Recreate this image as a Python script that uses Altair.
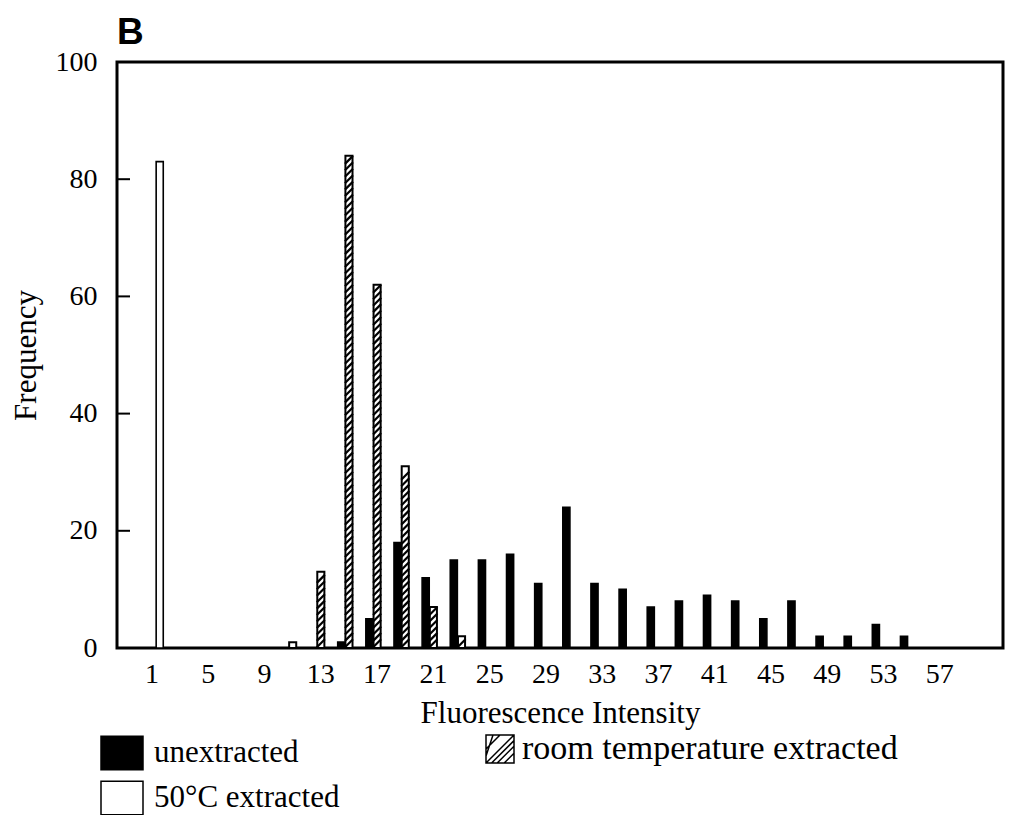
import altair as alt
import pandas as pd
import numpy as np

# ---- data ----
intensity_bins = list(range(1, 60, 2))
unextracted = [0, 0, 0, 0, 0, 0, 0, 1, 5, 18, 12, 15, 15, 16, 11, 24, 11, 10, 7, 8,
               9, 8, 5, 8, 2, 2, 4, 2, 0, 0]
room_temp = [0, 0, 0, 0, 0, 1, 13, 84, 62, 31, 7, 2, 0, 0, 0, 0, 0, 0, 0, 0,
             0, 0, 0, 0, 0, 0, 0, 0, 0, 0]
extracted_50 = [83, 0, 0, 0, 0, 0, 0, 0, 0, 0, 0, 0, 0, 0, 0, 0, 0, 0, 0, 0,
                0, 0, 0, 0, 0, 0, 0, 0, 0, 0]
series_names = ["unextracted", "room temperature extracted", "50°C extracted"]
y_ticks = [0, 20, 40, 60, 80, 100]
inner_ticks = [20, 40, 60, 80]

rows = []
for name, vals in zip(series_names, [unextracted, room_temp, extracted_50]):
    for b, v in zip(intensity_bins, vals):
        if v > 0:
            rows.append({"bin": b, "series": name, "freq": v})
df = pd.DataFrame(rows)

# hatch strokes for the room-temperature bars (pattern only)
hatch_rows = []
for b, v in zip(intensity_bins, room_temp):
    if v >= 2:
        for yy in np.arange(0.8, v - 0.5, 1.1):
            hatch_rows.append({"bin": b, "series": series_names[1], "freq": float(yy)})
hatch_df = pd.DataFrame(hatch_rows)

SERIF = "Liberation Serif"

x_enc = alt.X("bin:O",
              scale=alt.Scale(domain=intensity_bins, paddingInner=0.2, paddingOuter=0.844),
              axis=alt.Axis(title="Fluorescence Intensity",
                            labelExpr="datum.value % 4 == 1 ? datum.label : ''",
                            labelAngle=0, labelFont=SERIF, labelFontSize=28,
                            labelColor="black", labelPadding=12,
                            titleFont=SERIF, titleFontSize=31, titleFontWeight="normal",
                            titleColor="black", titleY=74, titleBaseline="alphabetic"))
y_enc = alt.Y("freq:Q",
              scale=alt.Scale(domain=[0, 100], nice=False),
              axis=alt.Axis(title="Frequency", values=y_ticks,
                            labelFont=SERIF, labelFontSize=28, labelColor="black",
                            labelPadding=20,
                            titleFont=SERIF, titleFontSize=31, titleFontWeight="normal",
                            titleColor="black", titleX=-82, titleBaseline="alphabetic"))
xoff_enc = alt.XOffset("series:N", scale=alt.Scale(domain=series_names, paddingInner=0.08))

base = alt.Chart(df)

bars_bw = base.transform_filter(
    alt.datum.series != series_names[1]
).mark_bar(stroke="black", strokeWidth=1.6).encode(
    x=x_enc, y=y_enc, xOffset=xoff_enc,
    color=alt.Color("series:N",
                    scale=alt.Scale(domain=[series_names[0], series_names[2]],
                                    range=["black", "white"]),
                    legend=alt.Legend(title=None, orient="none", legendX=-17, legendY=669,
                                      direction="vertical",
                                      symbolType="M-1,-0.8H1V0.8H-1Z", symbolSize=1764,
                                      symbolStrokeColor="black", symbolStrokeWidth=1.5,
                                      labelFont=SERIF, labelFontSize=31, labelColor="black",
                                      labelOffset=10, rowPadding=3, labelLimit=400))
)

hatch_symbol = ("M-1,-1H1V1H-1Z M-1,0L0,-1 M-1,0.5L-0.5,-1 M-1,1L1,-1 M-0.6,1L1,-0.6 "
                "M-0.2,1L1,-0.2 M0.3,1L1,0.3")

bars_hatch = base.transform_filter(
    alt.datum.series == series_names[1]
).mark_bar(fill="white", strokeWidth=2).encode(
    x=x_enc, y=y_enc, xOffset=xoff_enc,
    stroke=alt.Stroke("series:N",
                      scale=alt.Scale(domain=[series_names[1]], range=["black"]),
                      legend=alt.Legend(title=None, orient="none", legendX=366, legendY=670,
                                        symbolType=hatch_symbol, symbolSize=784,
                                        symbolFillColor="white", symbolStrokeWidth=1.5,
                                        labelFont=SERIF, labelFontSize=34, labelColor="black",
                                        labelOffset=5, labelLimit=600))
)

hatch_pts = alt.Chart(hatch_df).mark_point(
    shape="M-1,1L1,-1", size=64, filled=False, stroke="black", strokeWidth=2.2, opacity=1
).encode(
    x=alt.X("bin:O"), y=alt.Y("freq:Q"),
    xOffset=alt.XOffset("series:N")
)

tick_rules = alt.Chart(pd.DataFrame({"t": inner_ticks})).mark_rule(
    color="black", strokeWidth=2
).encode(
    y=alt.Y("t:Q"), x=alt.value(0), x2=alt.value(13)
)

chart = alt.layer(bars_bw, bars_hatch, hatch_pts, tick_rules).properties(
    width=886, height=586,
    padding={"left": 109, "top": 54, "right": 10, "bottom": 167},
    autosize="none",
    title=alt.TitleParams("B", anchor="start", frame="group", font="Liberation Sans",
                          fontWeight="bold", fontSize=37, color="black",
                          baseline="alphabetic", offset=19, dy=52)
).configure_view(
    stroke="black", strokeWidth=3
).configure_axis(
    domain=False, grid=False, ticks=False
)

chart.save("out.html", embed_options={"renderer": "svg", "actions": False})
